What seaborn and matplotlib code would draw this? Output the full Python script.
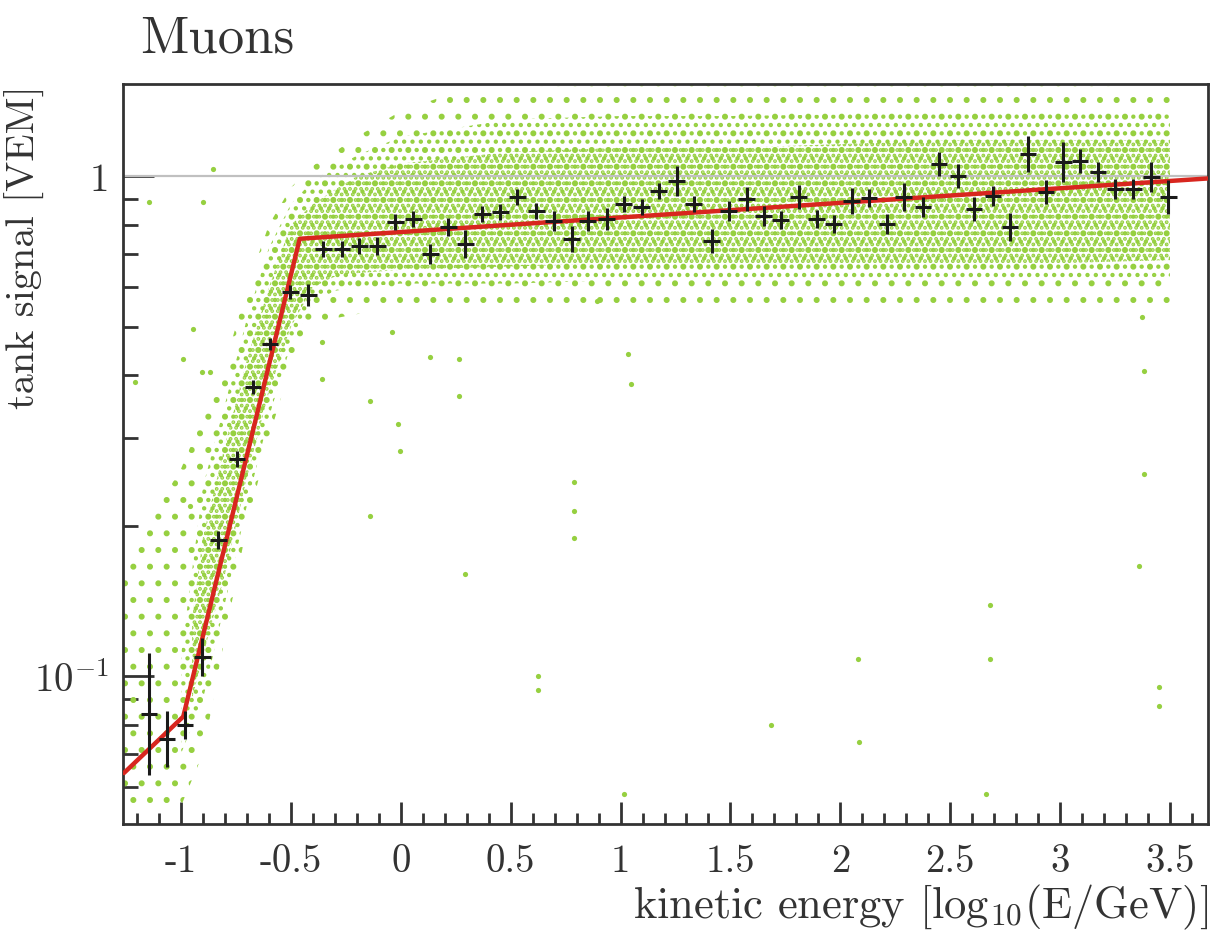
import matplotlib
matplotlib.use("Agg")
import numpy as np
import matplotlib.pyplot as plt
import matplotlib.ticker as mticker
import seaborn as sns

# profile of the tank signal (black crosses)
prof_x = [-1.146, -1.064, -0.982, -0.904, -0.831, -0.745, -0.672, -0.595, -0.503, -0.421,
          -0.353, -0.267, -0.189, -0.107, -0.025, 0.057, 0.134, 0.216, 0.294, 0.371,
          0.453, 0.531, 0.617, 0.695, 0.777, 0.850, 0.936, 1.014, 1.096, 1.173,
          1.255, 1.333, 1.415, 1.492, 1.574, 1.652, 1.729, 1.811, 1.893, 1.970,
          2.052, 2.130, 2.212, 2.289, 2.376, 2.449, 2.535, 2.608, 2.695, 2.772,
          2.854, 2.936, 3.014, 3.091, 3.173, 3.251, 3.333, 3.415, 3.492]
prof_y = [0.084, 0.075, 0.080, 0.109, 0.187, 0.272, 0.379, 0.462, 0.587, 0.579,
          0.715, 0.715, 0.725, 0.725, 0.809, 0.821, 0.699, 0.791, 0.732, 0.840,
          0.848, 0.908, 0.852, 0.813, 0.749, 0.813, 0.821, 0.879, 0.867, 0.933,
          0.977, 0.879, 0.742, 0.852, 0.900, 0.832, 0.817, 0.908, 0.821, 0.802,
          0.891, 0.904, 0.802, 0.908, 0.867, 1.057, 1.000, 0.859, 0.912, 0.791,
          1.106, 0.929, 1.066, 1.071, 1.019, 0.942, 0.942, 0.995, 0.908]
# half length of the vertical bars, in decades
prof_err = [0.122, 0.056, 0.028, 0.038, 0.018, 0.016, 0.014, 0.012, 0.014, 0.022,
            0.016, 0.016, 0.016, 0.018, 0.016, 0.016, 0.020, 0.018, 0.028, 0.016,
            0.016, 0.016, 0.016, 0.020, 0.026, 0.020, 0.022, 0.016, 0.016, 0.016,
            0.030, 0.016, 0.024, 0.020, 0.024, 0.020, 0.018, 0.024, 0.018, 0.018,
            0.026, 0.018, 0.020, 0.028, 0.020, 0.024, 0.024, 0.024, 0.020, 0.028,
            0.036, 0.024, 0.040, 0.024, 0.020, 0.020, 0.020, 0.030, 0.034]

# broken-line fit (red)
fit_x = [-1.26, -0.99, -0.46, 3.67]
fit_y = [0.064, 0.083, 0.75, 0.99]

# outline of the cloud of simulated muons: sparse halo, medium layer, dense core
halo_x = [-1.26, -1.1, -1.0, -0.9, -0.8, -0.7, -0.6, -0.5, -0.4, -0.3, -0.2, 0.0,
          0.3, 1.0, 1.5, 2.0, 2.5, 3.0, 3.5]
halo_lo = [0.055, 0.055, 0.055, 0.07, 0.12, 0.2, 0.3, 0.42, 0.5, 0.52, 0.53, 0.54,
           0.54, 0.55, 0.55, 0.55, 0.55, 0.55, 0.55]
halo_hi = [0.17, 0.22, 0.26, 0.33, 0.42, 0.6, 0.8, 0.95, 1.05, 1.12, 1.2, 1.35,
           1.5, 1.52, 1.52, 1.52, 1.52, 1.52, 1.5]
mid_x = [-1.0, -0.9, -0.8, -0.7, -0.6, -0.5, -0.4, -0.3, -0.2, 0.0,
         0.5, 1.0, 1.5, 2.0, 2.5, 3.0, 3.5]
mid_lo = [0.07, 0.09, 0.14, 0.22, 0.33, 0.46, 0.56, 0.59, 0.6, 0.61,
          0.61, 0.62, 0.62, 0.62, 0.62, 0.62, 0.63]
mid_hi = [0.11, 0.24, 0.35, 0.52, 0.72, 0.88, 0.98, 1.04, 1.1, 1.2,
          1.3, 1.32, 1.32, 1.33, 1.35, 1.35, 1.35]
core_x = [-0.95, -0.9, -0.8, -0.7, -0.6, -0.5, -0.4, -0.3, -0.2, 0.0,
          0.5, 1.0, 1.5, 2.0, 2.5, 3.0, 3.5]
core_lo = [0.09, 0.11, 0.16, 0.25, 0.37, 0.5, 0.6, 0.63, 0.64, 0.65,
           0.66, 0.67, 0.67, 0.67, 0.67, 0.67, 0.68]
core_hi = [0.13, 0.19, 0.29, 0.43, 0.6, 0.8, 0.88, 0.94, 1.0, 1.06,
           1.12, 1.14, 1.14, 1.16, 1.18, 1.18, 1.18]

# isolated muons outside the cloud
out_x = [-0.854, -1.146, -0.900, -0.959, -0.945, -0.990, -1.210, -0.904, -0.868,
         -0.039, 0.134, 0.267, 0.267, -0.139, -0.358, -0.358, -0.139, -0.011,
         -0.002, 0.294, 0.786, 0.786, 0.786, 1.046, 1.032, 0.895, 0.626, 0.626,
         1.014, 1.683, 2.080, 2.084, 2.681, 2.681, 2.663, 3.374, 3.383, 3.383,
         3.360, 3.451, 3.451]
out_y = [1.033, 0.887, 0.887, 0.219, 0.495, 0.431, 0.388, 0.406, 0.406,
         0.488, 0.435, 0.431, 0.364, 0.355, 0.466, 0.393, 0.209, 0.320,
         0.282, 0.160, 0.245, 0.214, 0.189, 0.384, 0.441, 0.563, 0.100, 0.094,
         0.058, 0.080, 0.108, 0.074, 0.139, 0.108, 0.058, 0.523, 0.408, 0.254,
         0.166, 0.095, 0.087]

x_ticks = [-1, -0.5, 0, 0.5, 1, 1.5, 2, 2.5, 3, 3.5]
x_ticklabels = ["-1", "-0.5", "0", "0.5", "1", "1.5", "2", "2.5", "3", "3.5"]

green = "#96d040"

sns.set_theme(style="ticks")
plt.rcParams["font.family"] = ["cmr10", "DejaVu Serif"]
plt.rcParams["mathtext.fontset"] = "cm"
plt.rcParams["axes.formatter.use_mathtext"] = True
plt.rcParams["hatch.linewidth"] = 1.9

fig = plt.figure(figsize=(12.11, 9.37), dpi=100)
ax = fig.add_axes([0.1016, 0.1195, 0.8959, 0.7898])
ax.set_yscale("log")

ax.fill_between(halo_x, halo_lo, halo_hi, facecolor="none", edgecolor=green,
                hatch=".", linewidth=0, zorder=1)
ax.fill_between(mid_x, mid_lo, mid_hi, facecolor="none", edgecolor=green,
                hatch="..", linewidth=0, zorder=1)
ax.fill_between(core_x, core_lo, core_hi, facecolor="none", edgecolor=green,
                hatch="...", linewidth=0, zorder=1)
sns.scatterplot(x=out_x, y=out_y, color=green, s=14, linewidth=0, ax=ax, zorder=2)

ax.axhline(1, color="#c0c0c0", lw=1.6, zorder=1.5)
sns.lineplot(x=fit_x, y=fit_y, color="#d8261f", lw=3.2, sort=False, ax=ax, zorder=4)

py = np.array(prof_y)
pe = np.array(prof_err)
yerr = [py * (1 - 10 ** -pe), py * (10 ** pe - 1)]
ax.errorbar(prof_x, prof_y, xerr=0.038, yerr=yerr, fmt="none", ecolor="#1a1a1a",
            elinewidth=2.2, capsize=0, zorder=5)

ax.set_xlim(-1.264, 3.673)
ax.set_ylim(0.0506, 1.53)

ax.set_xticks(x_ticks)
ax.set_xticklabels(x_ticklabels)
ax.xaxis.set_minor_locator(mticker.MultipleLocator(0.1))
ax.set_yticks([0.1, 1])
ax.set_yticklabels([r"$10^{-1}$", "1"])
ax.yaxis.set_minor_locator(mticker.LogLocator(base=10, subs=np.arange(2, 10)))
ax.yaxis.set_minor_formatter(mticker.NullFormatter())

ax.tick_params(axis="both", which="both", direction="in", colors="#333333",
               labelcolor="#333333", labelsize=28, width=2)
ax.tick_params(axis="x", which="major", length=16, pad=14)
ax.tick_params(axis="x", which="minor", length=8)
ax.tick_params(axis="y", which="major", length=22, pad=10)
ax.tick_params(axis="y", which="minor", length=11)
for s in ax.spines.values():
    s.set_linewidth(2)
    s.set_color("#333333")

ax.set_xlabel("kinetic energy [log$_{10}$(E/GeV)]", loc="right", fontsize=32,
              color="#333333", labelpad=2)
ax.set_ylabel("tank signal [VEM]", loc="top", fontsize=29, color="#333333")
ax.yaxis.set_label_coords(-0.072, 1.0)
fig.text(0.116, 0.958, "Muons", fontsize=38, va="center", color="#333333")

fig.savefig("out.png", dpi=100)
